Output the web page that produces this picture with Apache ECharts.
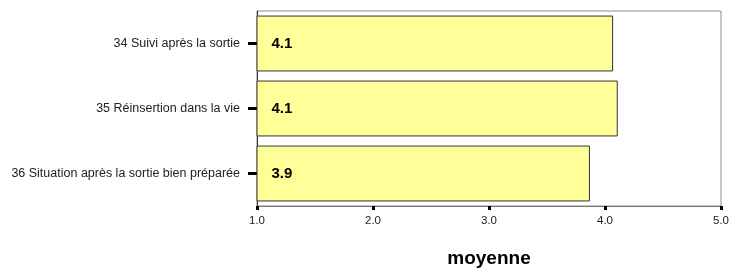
<!DOCTYPE html>
<html>
<head>
<meta charset="utf-8">
<script src="https://cdn.jsdelivr.net/npm/echarts@6/dist/echarts.min.js"></script>
<style>
  html, body { margin: 0; padding: 0; background: #fff; }
  #chart { width: 733px; height: 273px; }
</style>
</head>
<body>
<div id="chart"></div>
<script>
// items, top to bottom
const categories = [
  '34 Suivi après la sortie',
  '35 Réinsertion dans la vie',
  '36 Situation après la sortie bien préparée'
];
const means = [4.07, 4.11, 3.87];
const xTicks = [1, 2, 3, 4, 5];

const chart = echarts.init(document.getElementById('chart'));

chart.setOption({
  animation: false,
  grid: {
    left: 257,
    right: 12,
    top: 11,
    bottom: 64,
    show: true,
    borderColor: '#8c8c8c',
    borderWidth: 1
  },
  xAxis: {
    type: 'value',
    min: xTicks[0],
    max: xTicks[xTicks.length - 1],
    interval: 1,
    name: 'moyenne',
    nameLocation: 'middle',
    nameGap: 43,
    nameTextStyle: { fontFamily: 'Liberation Sans', fontSize: 19, fontWeight: 'bold', color: '#000' },
    axisLine: { show: true, lineStyle: { color: '#777', width: 1 } },
    axisTick: { show: true, length: 4, lineStyle: { color: '#000', width: 3 } },
    axisLabel: {
      fontFamily: 'Liberation Sans', fontSize: 11.5, color: '#222', margin: 9,
      formatter: v => v.toFixed(1)
    },
    splitLine: { show: false }
  },
  yAxis: {
    type: 'category',
    data: categories,
    inverse: true,
    axisLine: { show: true, lineStyle: { color: '#333', width: 1 } },
    axisTick: { show: true, alignWithLabel: true, length: 9, lineStyle: { color: '#000', width: 3 } },
    axisLabel: { fontFamily: 'Liberation Sans', fontSize: 12.5, color: '#222', margin: 17 }
  },
  series: [{
    type: 'bar',
    data: means,
    barCategoryGap: '14%',
    itemStyle: { color: '#ffff99', borderColor: '#333', borderWidth: 1 },
    label: {
      show: true,
      position: 'insideLeft',
      distance: 15,
      fontFamily: 'Liberation Sans',
      fontSize: 15,
      fontWeight: 'bold',
      color: '#000',
      formatter: p => p.value.toFixed(1)
    }
  }]
});
</script>
</body>
</html>
